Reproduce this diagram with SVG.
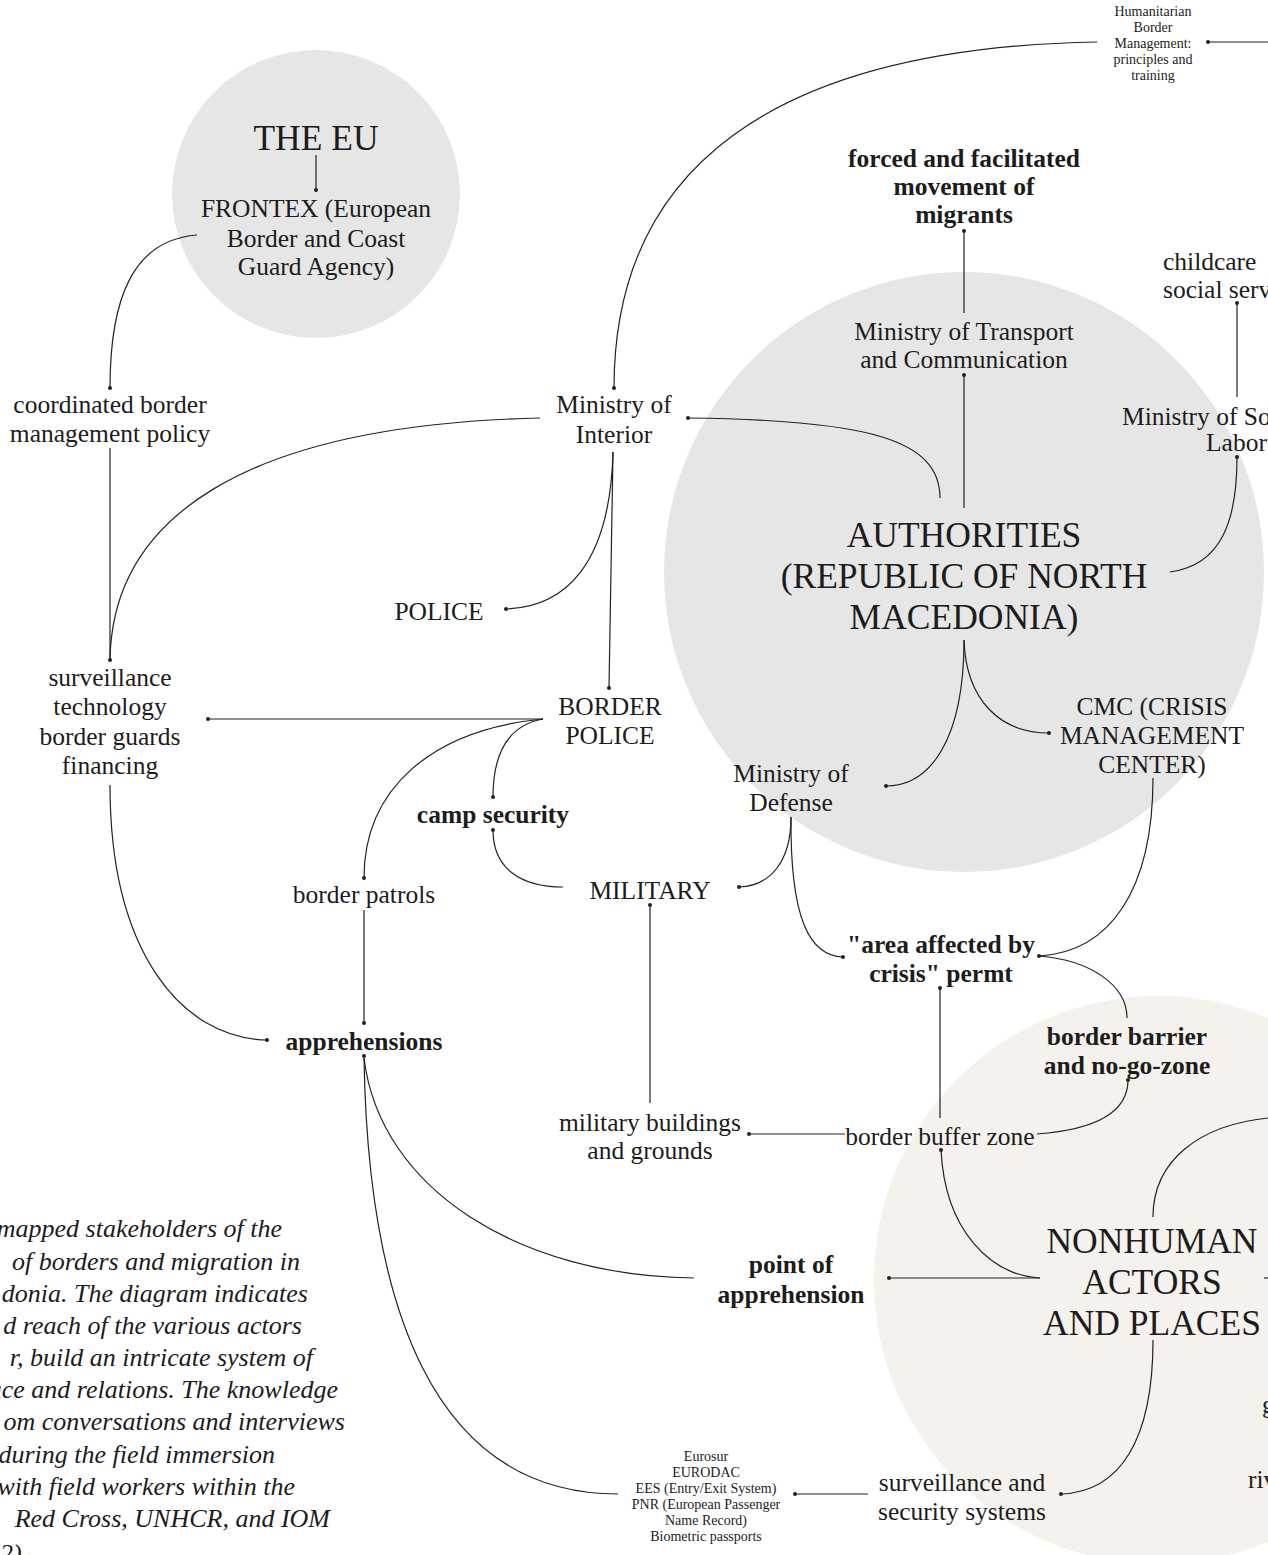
<svg xmlns="http://www.w3.org/2000/svg" width="1268" height="1555" viewBox="0 0 1268 1555">
<style>
.t{font-family:"Liberation Serif","Times New Roman",serif;font-size:25.5px;fill:#1c1c1c;text-anchor:middle}
.b{font-weight:bold}
.big{font-size:35.5px}
.sm{font-size:14px}
.st{text-anchor:start}
.it{font-style:italic;font-size:26px;text-anchor:end}
.c{fill:none;stroke:#222;stroke-width:1.2}
.d{fill:#222}
</style>
<rect width="1268" height="1555" fill="#ffffff"/>
<g id="backgrounds">
<circle cx="316" cy="194" r="144" fill="#e6e6e6"/>
<circle cx="964" cy="572" r="300" fill="#e6e6e6"/>
<circle cx="1158" cy="1280" r="284" fill="#f5f1ec"/>
</g>
<g id="connectors">
<path class="c" d="M1097,42 C770,48 614,170 614,388"/>
<path class="c" d="M1208,42 L1268,42"/>
<path class="c" d="M316,155 L316,190"/>
<path class="c" d="M197,235 C132,240 110,300 110,388"/>
<path class="c" d="M110,448 L110,660"/>
<path class="c" d="M540,418 C240,425 112,520 110,660"/>
<path class="c" d="M613,452 L609,688"/>
<path class="c" d="M613,452 C610,565 565,607 506,609"/>
<path class="c" d="M688,418 C870,420 940,440 940,498"/>
<path class="c" d="M964,231 L964,313"/>
<path class="c" d="M964,375 L964,508"/>
<path class="c" d="M1170,572 C1222,565 1237,520 1237,457"/>
<path class="c" d="M1237,397 L1237,303"/>
<path class="c" d="M964,640 C964,740 930,786 886,786"/>
<path class="c" d="M964,640 C966,700 1000,733 1049,733"/>
<path class="c" d="M543,719 L208,719"/>
<path class="c" d="M543,719 C510,725 493,750 493,797"/>
<path class="c" d="M543,719 C430,730 364,790 364,878"/>
<path class="c" d="M493,830 C493,868 520,887 563,887"/>
<path class="c" d="M364,910 L364,1023"/>
<path class="c" d="M110,785 C110,950 180,1038 267,1040"/>
<path class="c" d="M791,817 C791,862 770,886 739,887"/>
<path class="c" d="M791,817 C790,920 810,956 843,957"/>
<path class="c" d="M1153,778 C1153,890 1110,952 1039,956"/>
<path class="c" d="M1039,956 C1090,960 1127,985 1127,1018"/>
<path class="c" d="M940,988 L940,1118"/>
<path class="c" d="M650,1103 L650,905"/>
<path class="c" d="M1128,1080 C1128,1115 1090,1130 1037,1134"/>
<path class="c" d="M845,1134 L749,1134"/>
<path class="c" d="M941,1150 C945,1230 990,1275 1040,1278"/>
<path class="c" d="M1040,1278 L889,1278"/>
<path class="c" d="M364,1058 C380,1190 520,1276 694,1278"/>
<path class="c" d="M364,1058 C368,1300 430,1494 618,1494"/>
<path class="c" d="M1153,1217 C1153,1160 1200,1125 1268,1118"/>
<path class="c" d="M1264,1278 L1268,1278"/>
<path class="c" d="M1153,1340 C1153,1440 1120,1492 1061,1494"/>
<path class="c" d="M868,1494 L795,1494"/>
<g class="d">
<circle cx="1208" cy="42" r="2"/>
<circle cx="614" cy="388" r="2"/>
<circle cx="316" cy="190" r="2"/>
<circle cx="110" cy="388" r="2"/>
<circle cx="110" cy="660" r="2"/>
<circle cx="688" cy="418" r="2"/>
<circle cx="964" cy="231" r="2"/>
<circle cx="964" cy="375" r="2"/>
<circle cx="1237" cy="303" r="2"/>
<circle cx="1237" cy="457" r="2"/>
<circle cx="506" cy="609" r="2"/>
<circle cx="609" cy="688" r="2"/>
<circle cx="208" cy="719" r="2"/>
<circle cx="493" cy="797" r="2"/>
<circle cx="493" cy="830" r="2"/>
<circle cx="364" cy="878" r="2"/>
<circle cx="364" cy="1023" r="2"/>
<circle cx="267" cy="1040" r="2"/>
<circle cx="364" cy="1056" r="2"/>
<circle cx="886" cy="786" r="2"/>
<circle cx="1049" cy="733" r="2"/>
<circle cx="739" cy="887" r="2"/>
<circle cx="650" cy="905" r="2"/>
<circle cx="843" cy="957" r="2"/>
<circle cx="1039" cy="956" r="2"/>
<circle cx="940" cy="988" r="2"/>
<circle cx="1128" cy="1080" r="2"/>
<circle cx="749" cy="1134" r="2"/>
<circle cx="941" cy="1150" r="2"/>
<circle cx="889" cy="1278" r="2"/>
<circle cx="1061" cy="1494" r="2"/>
<circle cx="795" cy="1494" r="2"/>
</g>
</g>
<g id="n-humanitarian"><text class="t sm" x="1153" y="16">Humanitarian</text><text class="t sm" x="1153" y="32">Border</text><text class="t sm" x="1153" y="48">Management:</text><text class="t sm" x="1153" y="64">principles and</text><text class="t sm" x="1153" y="80">training</text></g>
<g id="n-eu"><text class="t big" x="316" y="150">THE EU</text></g>
<g id="n-frontex"><text class="t" x="316" y="217">FRONTEX (European</text><text class="t" x="316" y="247">Border and Coast</text><text class="t" x="316" y="275">Guard Agency)</text></g>
<g id="n-forced"><text class="t b" x="964" y="167">forced and facilitated</text><text class="t b" x="964" y="195">movement of</text><text class="t b" x="964" y="223">migrants</text></g>
<g id="n-transport"><text class="t" x="964" y="340">Ministry of Transport</text><text class="t" x="964" y="368">and Communication</text></g>
<g id="n-childcare"><text class="t st" x="1163" y="270">childcare</text><text class="t st" x="1163" y="298">social serv</text></g>
<g id="n-social"><text class="t st" x="1122" y="425">Ministry of So</text><text class="t st" x="1206" y="451">Labor</text></g>
<g id="n-coordinated"><text class="t" x="110" y="413">coordinated border</text><text class="t" x="110" y="442">management policy</text></g>
<g id="n-interior"><text class="t" x="614" y="413">Ministry of</text><text class="t" x="614" y="443">Interior</text></g>
<g id="n-authorities"><text class="t big" x="964" y="547">AUTHORITIES</text><text class="t big" x="964" y="588">(REPUBLIC OF NORTH</text><text class="t big" x="964" y="629">MACEDONIA)</text></g>
<g id="n-police"><text class="t" x="439" y="620">POLICE</text></g>
<g id="n-surveillance-tech"><text class="t" x="110" y="686">surveillance</text><text class="t" x="110" y="715">technology</text><text class="t" x="110" y="745">border guards</text><text class="t" x="110" y="774">financing</text></g>
<g id="n-border-police"><text class="t" x="610" y="715">BORDER</text><text class="t" x="610" y="744">POLICE</text></g>
<g id="n-cmc"><text class="t" x="1152" y="715">CMC (CRISIS</text><text class="t" x="1152" y="744">MANAGEMENT</text><text class="t" x="1152" y="773">CENTER)</text></g>
<g id="n-defense"><text class="t" x="791" y="782">Ministry of</text><text class="t" x="791" y="811">Defense</text></g>
<g id="n-camp"><text class="t b" x="493" y="823">camp security</text></g>
<g id="n-military"><text class="t" x="650" y="899">MILITARY</text></g>
<g id="n-patrols"><text class="t" x="364" y="903">border patrols</text></g>
<g id="n-area"><text class="t b" x="941" y="953">"area affected by</text><text class="t b" x="941" y="982">crisis" permt</text></g>
<g id="n-apprehensions"><text class="t b" x="364" y="1050">apprehensions</text></g>
<g id="n-barrier"><text class="t b" x="1127" y="1045">border barrier</text><text class="t b" x="1127" y="1074">and no-go-zone</text></g>
<g id="n-military-buildings"><text class="t" x="650" y="1131">military buildings</text><text class="t" x="650" y="1159">and grounds</text></g>
<g id="n-buffer"><text class="t" x="940" y="1145">border buffer zone</text></g>
<g id="n-nonhuman"><text class="t big" x="1152" y="1253">NONHUMAN</text><text class="t big" x="1152" y="1294">ACTORS</text><text class="t big" x="1152" y="1335">AND PLACES</text></g>
<g id="n-point"><text class="t b" x="791" y="1273">point of</text><text class="t b" x="791" y="1303">apprehension</text></g>
<g id="n-right-partial"><text class="t st" x="1262" y="1413">g</text><text class="t st" x="1248" y="1488">riv</text></g>
<g id="n-eurosur"><text class="t sm" x="706" y="1461">Eurosur</text><text class="t sm" x="706" y="1477">EURODAC</text><text class="t sm" x="706" y="1493">EES (Entry/Exit System)</text><text class="t sm" x="706" y="1509">PNR (European Passenger</text><text class="t sm" x="706" y="1525">Name Record)</text><text class="t sm" x="706" y="1541">Biometric passports</text></g>
<g id="n-surveillance-systems"><text class="t" x="962" y="1491">surveillance and</text><text class="t" x="962" y="1520">security systems</text></g>
<g id="caption">
<text class="t it" x="282" y="1237">mapped stakeholders of the</text>
<text class="t it" x="300" y="1270">of borders and migration in</text>
<text class="t it" x="308" y="1302">donia. The diagram indicates</text>
<text class="t it" x="302" y="1334">d reach of the various actors</text>
<text class="t it" x="313" y="1366">r, build an intricate system of</text>
<text class="t it" x="338" y="1398">ace and relations. The knowledge</text>
<text class="t it" x="345" y="1430">om conversations and interviews</text>
<text class="t it" x="275" y="1463">during the field immersion</text>
<text class="t it" x="295" y="1495">with field workers within the</text>
<text class="t it" x="330" y="1527">Red Cross, UNHCR, and IOM</text>
<text class="t it" style="text-anchor:start" x="0" y="1562">2)</text>
</g>
</svg>
